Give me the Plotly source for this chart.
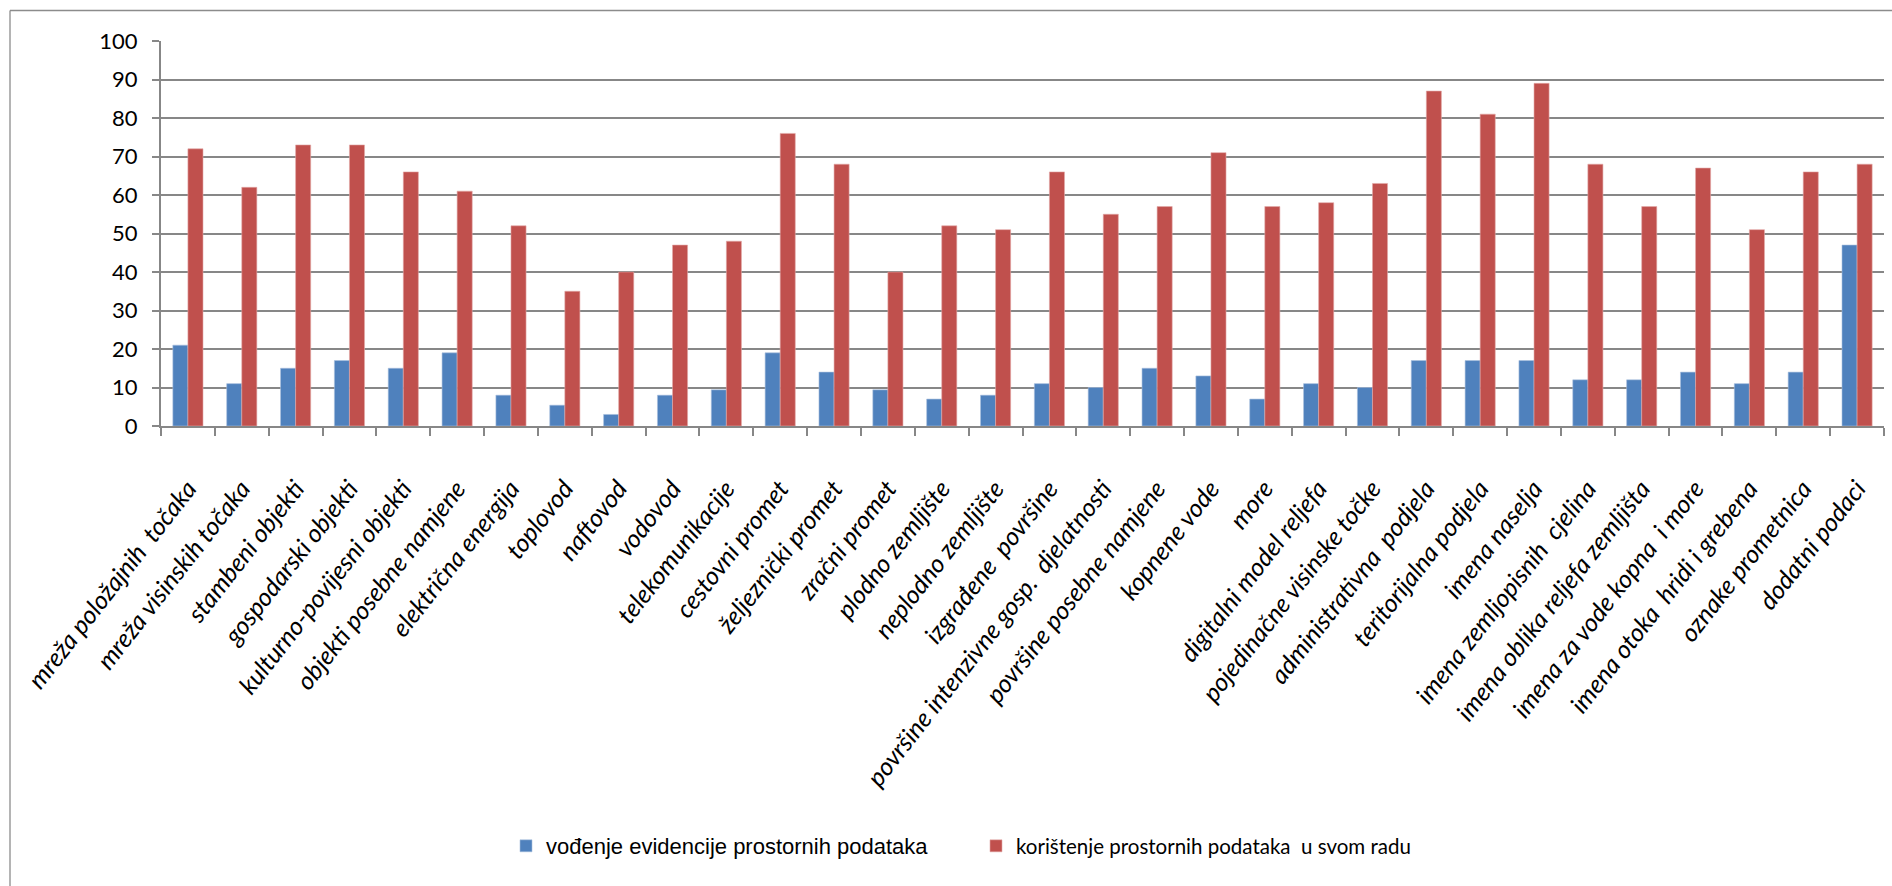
import plotly.graph_objects as go

# Categories of spatial data (x axis)
categories = [
    "mreža položajnih\u00a0 točaka",
    "mreža visinskih točaka",
    "stambeni objekti",
    "gospodarski objekti",
    "kulturno-povijesni objekti",
    "objekti posebne namjene",
    "električna energija",
    "toplovod",
    "naftovod",
    "vodovod",
    "telekomunikacije",
    "cestovni promet",
    "željeznički promet",
    "zračni promet",
    "plodno zemljište",
    "neplodno zemljište",
    "izgrađene\u00a0 površine",
    "površine intenzivne gosp.\u00a0 djelatnosti",
    "površine posebne namjene",
    "kopnene vode",
    "more",
    "digitalni model reljefa",
    "pojedinačne visinske točke",
    "administrativna\u00a0 podjela",
    "teritorijalna podjela",
    "imena naselja",
    "imena zemljopisnih\u00a0 cjelina",
    "imena oblika reljefa zemljišta",
    "imena za vode kopna\u00a0 i more",
    "imena otoka\u00a0 hridi i grebena",
    "oznake prometnica",
    "dodatni podaci",
]

# Series values (percent)
vodenje = [21, 11, 15, 17, 15, 19, 8, 5.4, 3, 8, 9.4, 19, 14, 9.4, 7, 8,
           11, 10, 15, 13, 7, 11, 10, 17, 17, 17, 12, 12, 14, 11, 14, 47]
koristenje = [72, 62, 73, 73, 66, 61, 52, 35, 40, 47, 48, 76, 68, 40, 52, 51,
              66, 55, 57, 71, 57, 58, 63, 87, 81, 89, 68, 57, 67, 51, 66, 68]

series_names = [
    "vođenje evidencije prostornih podataka",
    "korištenje prostornih podataka\u00a0 u svom radu",
]

y_ticks = list(range(0, 101, 10))

BLUE = "#4F81BD"
RED = "#C0504D"
GRID = "#878787"

W, H = 1892, 886
ML, MR, MT, MB = 161, 8, 41, 460
PW = W - ML - MR
PH = H - MT - MB


def px_x(p):
    return (p - ML) / PW


def px_y(p):
    return (H - MB - p) / PH


fig = go.Figure()
fig.add_trace(go.Bar(
    x=categories, y=vodenje, name=series_names[0],
    marker=dict(color=BLUE, line=dict(color="#a9c0de", width=0.6)),
    legend="legend", showlegend=True,
))
fig.add_trace(go.Bar(
    x=categories, y=koristenje, name=series_names[1],
    marker=dict(color=RED, line=dict(color="#e3a9a7", width=0.6)),
    legend="legend2", showlegend=True,
))

# Outer frame (left and top edges visible)
frame = dict(type="line", xref="paper", yref="paper",
             line=dict(color="#8c8c8c", width=1.3), layer="above")
fig.add_shape(**frame, x0=px_x(10), x1=px_x(W + 5), y0=px_y(10.5), y1=px_y(10.5))
fig.add_shape(**frame, x0=px_x(10), x1=px_x(10), y0=px_y(10.5), y1=px_y(H + 5))

fig.update_layout(
    width=W, height=H,
    showlegend=True,
    margin=dict(l=ML, r=MR, t=MT, b=MB, autoexpand=False),
    paper_bgcolor="white", plot_bgcolor="white",
    barmode="group", bargap=0.44, bargroupgap=0,
    xaxis=dict(
        type="category",
        tickangle=-52,
        tickfont=dict(family="Lato", size=25, color="black", style="italic"),
        showline=True, linecolor=GRID, linewidth=2,
        ticks="outside", tickson="boundaries", ticklen=8,
        tickcolor=GRID, tickwidth=2,
        showgrid=False,
        ticklabelstandoff=36,
    ),
    yaxis=dict(
        range=[0, 100], tickvals=y_ticks,
        tickfont=dict(family="Lato", size=22, color="black"),
        showline=True, linecolor=GRID, linewidth=2,
        ticks="outside", ticklen=7, tickcolor=GRID, tickwidth=2,
        showgrid=True, gridcolor=GRID, gridwidth=2,
        zeroline=False,
        ticklabelstandoff=10,
    ),
    legend=dict(
        x=px_x(506), y=px_y(846), xanchor="left", yanchor="middle",
        font=dict(family="Liberation Sans Narrow, Liberation Sans", size=22, color="black"),
        bgcolor="rgba(0,0,0,0)", visible=True,
    ),
    legend2=dict(
        x=px_x(976), y=px_y(846), xanchor="left", yanchor="middle",
        font=dict(family="Lato", size=20.5, color="black"),
        bgcolor="rgba(0,0,0,0)", visible=True,
    ),
)

fig.write_html("out.html")
